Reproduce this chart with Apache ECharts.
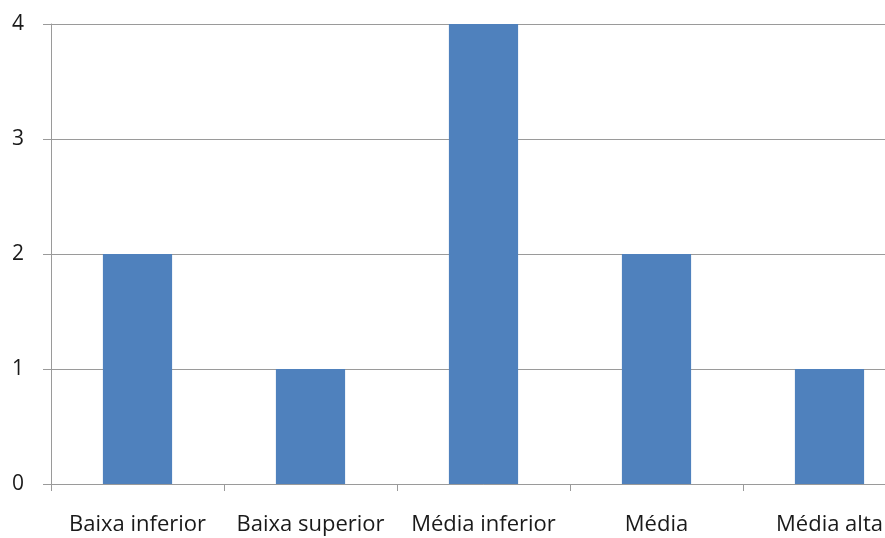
<!DOCTYPE html>
<html>
<head>
<meta charset="utf-8">
<script src="https://cdn.jsdelivr.net/npm/echarts@6/dist/echarts.min.js"></script>
<style>
  html, body { margin: 0; padding: 0; background: #fff; overflow: hidden; }
  #wrap { width: 885px; height: 538px; overflow: hidden; }
  #chart { width: 916px; height: 538px; }
</style>
</head>
<body>
<div id="wrap"><div id="chart"></div></div>
<script>
// Classes de renda e número de ocorrências
const categories = ['Baixa inferior', 'Baixa superior', 'Média inferior', 'Média', 'Média alta'];
const counts = [2, 1, 4, 2, 1];
const yTicks = [0, 1, 2, 3, 4];

const chart = echarts.init(document.getElementById('chart'));
chart.setOption({
  animation: false,
  grid: { left: 51, right: 0, top: 24, bottom: 54, containLabel: false },
  xAxis: {
    type: 'category',
    data: categories,
    boundaryGap: true,
    axisLine: { lineStyle: { color: '#9a9a9a', width: 1 } },
    axisTick: { show: true, length: 7, lineStyle: { color: '#9a9a9a' } },
    axisLabel: {
      color: '#1a1a1a',
      fontFamily: 'Open Sans',
      fontSize: 22,
      margin: 30,
      interval: 0
    }
  },
  yAxis: {
    type: 'value',
    min: yTicks[0],
    max: yTicks[yTicks.length - 1],
    interval: 1,
    axisLine: { show: true, lineStyle: { color: '#9a9a9a', width: 1 } },
    axisTick: { show: true, length: 8, inside: false, lineStyle: { color: '#9a9a9a' } },
    splitLine: { show: true, lineStyle: { color: '#9a9a9a', width: 1 } },
    axisLabel: {
      color: '#1a1a1a',
      fontFamily: 'Open Sans',
      fontSize: 21,
      margin: 27
    }
  },
  series: [{
    type: 'bar',
    data: counts,
    barWidth: '40%',
    itemStyle: { color: '#4f81bd' }
  }]
});
</script>
</body>
</html>
